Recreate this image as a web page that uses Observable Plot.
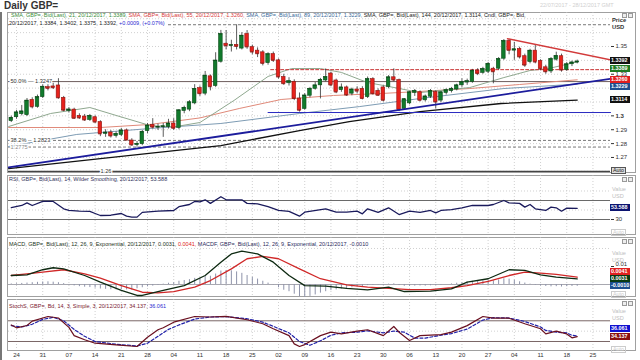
<!DOCTYPE html>
<html><head><meta charset="utf-8">
<script src="https://cdn.jsdelivr.net/npm/d3@7"></script>
<script src="https://cdn.jsdelivr.net/npm/@observablehq/plot@0.6"></script>
<style>
html,body{margin:0;padding:0;background:#fff;}
#root{position:relative;width:640px;height:360px;overflow:hidden;font-family:"Liberation Sans",Arial,sans-serif;}
.a{position:absolute;white-space:nowrap;}
.leg{font-size:5.5px;line-height:6.5px;}
.box{position:absolute;left:610px;width:20px;height:7px;font-size:5.4px;line-height:7px;color:#fff;text-align:left;padding-left:1px;box-sizing:border-box;font-weight:bold;overflow:hidden;}
.frame{position:absolute;left:7px;width:629px;border:1px solid #a0a0a0;box-sizing:border-box;}
.icon{position:absolute;width:5px;height:5px;border:1px solid #999;background:#eee;box-sizing:border-box;}
</style></head><body><div id="root"></div>
<script>
// ---------------- data ----------------
const weekTicks  = [1,6,11,16,21,26,31,36,41,46,51,56,61,66,71,76,81,86,91,96,101,106,111];
const weekLabels = ["24","31","07","14","21","28","04","11","18","25","02","09","16","23","30","06","13","20","27","04","11","18","25"];

const open = [1.2962,1.2990,1.3012,1.3005,1.3115,1.3065,1.3135,1.3207,1.3212,1.3219,
1.3130,1.3035,1.3045,1.3000,1.2995,1.2970,1.2990,1.2955,1.2870,1.2880,
1.2855,1.2862,1.2895,1.2822,1.2790,1.2796,1.2890,1.2935,1.2916,1.2920,
1.2920,1.2945,1.2912,1.3035,1.3045,1.3090,1.3200,1.3160,1.3285,1.3215,
1.3390,1.3520,1.3505,1.3512,1.3485,1.3590,1.3495,1.3470,1.3458,1.3380,
1.3445,1.3400,1.3280,1.3235,1.3245,1.3125,1.3050,1.3145,1.3195,1.3220,
1.3255,1.3305,1.3255,1.3185,1.3205,1.3160,1.3190,1.3195,1.3135,1.3265,
1.3180,1.3205,1.3208,1.3278,1.3258,1.3050,1.3090,1.3165,1.3170,1.3112,
1.3138,1.3172,1.3110,1.3165,1.3178,1.3190,1.3220,1.3240,1.3245,1.3325,
1.3310,1.3318,1.3340,1.3340,1.3412,1.3540,1.3470,1.3482,1.3430,1.3388,
1.3470,1.3395,1.3350,1.3320,1.3405,1.3430,1.3330,1.3372,1.3384];
const high = [1.2998,1.3040,1.3075,1.3125,1.3130,1.3150,1.3225,1.3230,1.3235,1.3268,
1.3140,1.3060,1.3055,1.3015,1.3010,1.3010,1.3000,1.2965,1.2900,1.2895,
1.2885,1.2910,1.2905,1.2835,1.2815,1.2895,1.2945,1.2980,1.2940,1.2945,
1.2975,1.2980,1.3045,1.3070,1.3110,1.3225,1.3215,1.3320,1.3295,1.3455,
1.3616,1.3615,1.3545,1.3657,1.3600,1.3615,1.3510,1.3490,1.3470,1.3455,
1.3460,1.3410,1.3300,1.3275,1.3260,1.3165,1.3160,1.3205,1.3240,1.3270,
1.3338,1.3315,1.3265,1.3230,1.3215,1.3200,1.3210,1.3210,1.3280,1.3275,
1.3195,1.3215,1.3290,1.3339,1.3265,1.3125,1.3175,1.3190,1.3180,1.3150,
1.3190,1.3180,1.3175,1.3195,1.3205,1.3228,1.3267,1.3265,1.3335,1.3340,
1.3350,1.3385,1.3350,1.3420,1.3550,1.3550,1.3530,1.3495,1.3445,1.3480,
1.3507,1.3405,1.3365,1.3420,1.3459,1.3445,1.3385,1.3395,1.3402];
const low = [1.2952,1.2975,1.3000,1.2995,1.3050,1.3055,1.3125,1.3180,1.3190,1.3120,
1.3030,1.3020,1.2975,1.2975,1.2960,1.2960,1.2945,1.2850,1.2845,1.2840,
1.2840,1.2850,1.2820,1.2780,1.2774,1.2785,1.2870,1.2905,1.2895,1.2845,
1.2905,1.2895,1.2900,1.3015,1.3030,1.3080,1.3140,1.3145,1.3180,1.3205,
1.3380,1.3475,1.3460,1.3475,1.3475,1.3480,1.3440,1.3420,1.3360,1.3365,
1.3385,1.3265,1.3220,1.3215,1.3110,1.3027,1.3040,1.3130,1.3185,1.3122,
1.3245,1.3210,1.3160,1.3170,1.3140,1.3145,1.3160,1.3115,1.3125,1.3150,
1.3140,1.3100,1.3195,1.3245,1.3030,1.3040,1.3080,1.3140,1.3100,1.3100,
1.3125,1.3051,1.3095,1.3150,1.3165,1.3180,1.3205,1.3220,1.3235,1.3290,
1.3300,1.3305,1.3231,1.3330,1.3400,1.3440,1.3400,1.3410,1.3350,1.3375,
1.3375,1.3325,1.3300,1.3305,1.3395,1.3315,1.3320,1.3355,1.3375];
const close = [1.2986,1.3025,1.3032,1.3110,1.3065,1.3135,1.3210,1.3198,1.3203,1.3130,
1.3040,1.3046,1.2982,1.2985,1.2970,1.3000,1.2955,1.2870,1.2880,1.2855,
1.2870,1.2895,1.2825,1.2790,1.2798,1.2885,1.2930,1.2918,1.2920,1.2925,
1.2945,1.2910,1.3040,1.3058,1.3098,1.3195,1.3160,1.3290,1.3210,1.3399,
1.3590,1.3505,1.3510,1.3500,1.3578,1.3497,1.3460,1.3448,1.3378,1.3445,
1.3400,1.3280,1.3232,1.3250,1.3125,1.3040,1.3147,1.3195,1.3220,1.3260,
1.3280,1.3222,1.3172,1.3205,1.3150,1.3190,1.3178,1.3125,1.3265,1.3160,
1.3148,1.3112,1.3278,1.3258,1.3045,1.3120,1.3170,1.3180,1.3112,1.3140,
1.3180,1.3100,1.3170,1.3185,1.3195,1.3220,1.3243,1.3250,1.3325,1.3305,
1.3338,1.3375,1.3318,1.3410,1.3540,1.3472,1.3480,1.3425,1.3365,1.3470,
1.3388,1.3340,1.3318,1.3410,1.3432,1.3330,1.3372,1.3385,1.3392];

// moving averages: [day index, value]
const sma21  = [[-0.5,1.2923],[7.5,1.3017],[15,1.3060],[20,1.3003],[26.5,1.2930],[31,1.2920],[36,1.2952],[42.5,1.3111],[49,1.3284],[53.5,1.3341],[59,1.3341],[63,1.3313],[68,1.3240],[72,1.3212],[78,1.3168],[87.5,1.3204],[94,1.3276],[99,1.3327],[102.5,1.3341],[108,1.3389]];
const sma55  = [[-0.5,1.2916],[17,1.2916],[26.5,1.2938],[36,1.2985],[43.5,1.3053],[51.5,1.3118],[61.5,1.3147],[70.5,1.3161],[78,1.3176],[87.5,1.3197],[97,1.3226],[108,1.3260]];
const sma89  = [[-0.5,1.2779],[12.5,1.2866],[26.5,1.2909],[40,1.2945],[55,1.3017],[66.5,1.3067],[78,1.3125],[94,1.3197],[108,1.3229]];
const sma144 = [[-0.5,1.2620],[17,1.2692],[40,1.2786],[55,1.2894],[64.5,1.2959],[78,1.3031],[93.5,1.3089],[108,1.3114]];

// drawn lines
const blueTrend = [[-0.53,1.2628],[114.35,1.3267]];
const redTrend  = [[94.7,1.3556],[114.35,1.3404]];
const blueFlat  = [[49,1.3024],[114.35,1.3024]];
const redFlat   = [[49.5,1.3333],[114.35,1.3333]];
const fibSolid  = [1.3247];
const fibDashed = [1.2823, 1.2775, 1.3657];
const baseLevel = [1.26];
const fibText   = [{v:1.3247,t:"50.0% \u2014 1.3247",c:"#333"},{v:1.2823,t:"38.2% -- 1.2823",c:"#333"},{v:1.2775,t:"1.2775",c:"#888"}];
const priceGrid = [1.26,1.27,1.28,1.29,1.30,1.31,1.32,1.33,1.34,1.35,1.36,1.37];
const priceTicks = [1.27,1.28,1.29,1.3,1.33,1.35];
const priceBold  = [1.3];

// RSI
const rsi = [[0,55],[2,59.5],[3,65],[4,59.5],[6,68],[8,68],[10,52.5],[11,49],[13,47.5],[15,47],[16,42.6],[17,38.4],[19,39],[21,42.6],[22,37],[23,35],[24,35],[25,45],[28,47.6],[31,49],[32,57],[34,61.6],[35,68],[36,67],[37,71.5],[38,64],[40,78],[41,71.5],[44,71.5],[45,64],[47,63],[49,57],[51,49],[53,47],[55,37],[56,45.4],[60,52.5],[62,45.4],[64,45.4],[66,47.5],[67,42],[68,52.5],[70,45],[72,54.6],[74,40.5],[76,47.5],[78,45],[80,49],[81,44],[82,49],[84,51],[86,54.6],[88,59.5],[91,59.5],[92,61.6],[94,70],[95,65],[97,64],[98,56],[99,61.6],[100,52.5],[102,49],[103,56],[104,54.6],[105,47.5],[106,54],[108,53.588]];

// MACD
const macd = [[0,0.0050],[3,0.0054],[6,0.0082],[8,0.0093],[10,0.0087],[14,0.0050],[17,0.0013],[21,-0.0033],[24,-0.0061],[25,-0.0061],[29,-0.0033],[33,-0.0006],[37,0.0050],[40,0.0124],[42,0.0170],[44,0.0185],[47,0.0170],[50,0.0124],[53,0.0050],[56,-0.0006],[60,-0.0009],[64,-0.0021],[68,-0.0030],[72,-0.0015],[75,-0.0039],[80,-0.0037],[84,-0.0024],[87,0.0013],[91,0.0032],[95,0.0082],[98,0.0078],[101,0.0054],[104,0.0041],[108,0.0031]];
const signal = [[0,0.0050],[3,0.0059],[6,0.0069],[10,0.0082],[14,0.0059],[17,0.0035],[21,-0.0006],[25,-0.0043],[28,-0.0046],[31,-0.0039],[35,-0.0015],[38,0.0022],[42,0.0087],[45,0.0143],[48,0.0156],[51,0.0143],[55,0.0087],[59,0.0032],[64,-0.0002],[68,-0.0015],[72,-0.0021],[76,-0.0028],[80,-0.0028],[84,-0.0018],[87,-0.0006],[91,0.0018],[95,0.0050],[98,0.0069],[101,0.0063],[104,0.0056],[108,0.0041]];
const hist = [0.0003,0.0004,0.0006,0.0008,0.0010,0.0012,0.0014,0.0015,0.0013,0.0010,0.0005,
-0.0002,-0.0008,-0.0012,-0.0015,-0.0017,-0.0020,-0.0025,-0.0027,-0.0029,-0.0030,-0.0029,-0.0030,-0.0031,-0.0024,-0.0018,-0.0013,-0.0009,
-0.0004,0.0002,0.0007,0.0010,0.0018,0.0022,0.0027,0.0034,0.0036,0.0044,0.0046,0.0058,0.0075,0.0078,0.0076,0.0070,0.0062,0.0050,0.0040,0.0030,0.0018,0.0008,-0.0002,
-0.0018,-0.0032,-0.0040,-0.0054,-0.0068,-0.0072,-0.0066,-0.0058,-0.0048,-0.0040,-0.0034,-0.0030,-0.0025,-0.0022,-0.0018,-0.0014,
-0.0012,-0.0006,-0.0004,-0.0002,-0.0003,0.0002,0.0004,-0.0006,-0.0010,-0.0010,-0.0009,-0.0008,-0.0009,-0.0007,-0.0006,-0.0003,0.0000,0.0003,0.0007,
0.0010,0.0014,0.0018,0.0018,0.0020,0.0022,0.0020,0.0025,0.0032,0.0030,0.0024,0.0015,0.0008,
0.0002,-0.0004,-0.0008,-0.0011,-0.0013,-0.0012,-0.0014,-0.0012,-0.0011,-0.0010];
const macdTicks = [0.01];

// Stochastic
const stochK = [[0,68],[1,59.7],[3,66.4],[4,79],[7,92.5],[9,88],[11,61],[12,37],[14,25],[16,15],[20,10],[24,5.5],[26,32.5],[28,54],[29,60],[31,76],[35,92.5],[38,91],[41,93],[45,83],[48,71.5],[50,57],[53,37],[54,13],[55,5.5],[56,11],[59,37],[61,47],[63,42],[66,50],[68,54],[71,37],[73,63.5],[74,47],[76,23],[78,37],[82,40],[84,47],[87,66],[90,92.5],[92,87.5],[95,87.5],[98,71.5],[101,57],[102,42],[104,50],[106,42],[107,30.7],[108,34.137]];
const stochD = [[0,66],[2,62],[4,70],[6,84],[8,90],[10,80],[12,55],[14,35],[16,20],[20,12],[24,7],[26,15],[28,35],[30,55],[32,68],[35,85],[38,91],[41,92],[45,86],[48,76],[50,64],[53,45],[55,20],[57,9],[59,22],[61,38],[63,45],[66,47],[68,51],[71,45],[73,50],[75,47],[77,30],[79,30],[82,38],[84,43],[87,56],[90,82],[92,89],[95,88],[98,78],[101,62],[102,52],[104,47],[106,45],[107,38],[108,36.061]];

// ---------------- layout ----------------
const root = document.getElementById("root");
const xDomain = [-0.53, 114.35];
const days = open.map((_, i) => i);
const FONT = "Liberation Sans, Arial, sans-serif";
const base = {width: 640, marginLeft: 8, marginRight: 30, marginTop: 0, marginBottom: 0,
  color: {type: "identity"},
  style: {background: "transparent", fontFamily: FONT, fontSize: "6px", color: "#333", overflow: "visible"}};
const gridX = Plot.ruleX(weekTicks, {stroke: "#c4c4c4", strokeDasharray: "1,2", strokeWidth: 0.8});
// right-hand value labels drawn as text next to the scale's tick marks
const rightLabels = (vals, opts = {}) => Plot.text(vals, {y: d => d, text: d => String(d), frameAnchor: "right",
  dx: 5, textAnchor: "start", fill: "#333", fontSize: 6, ...opts});

function el(tag, cls, css, html) {
  const d = document.createElement(tag); if (cls) d.className = cls;
  if (css) d.style.cssText = css; if (html != null) d.innerHTML = html;
  root.appendChild(d); return d;
}
function place(svg, top) { const w = el("div", "a", `left:0;top:${top}px;`); w.appendChild(svg); return svg; }
function boxes(top, scale, items, mode, H = 7.5) {
  const pos = items.map(d => top + scale.apply(d.v));
  if (mode === "down") { for (let k = 1; k < pos.length; k++) pos[k] = Math.max(pos[k], pos[k-1] + H); }
  else { for (let k = pos.length - 2; k >= 0; k--) pos[k] = Math.min(pos[k], pos[k+1] - H); }
  items.forEach((d, k) => el("div", "box", `top:${pos[k] - 3.5}px;background:${d.bg};`, d.t));
}

// frames & chrome
el("div", "a", "left:0;top:12px;width:2px;height:348px;background:#777;");
[[12,161],[175,60],[237,60],[299,52]].forEach(([t,h]) => el("div", "frame", `top:${t}px;height:${h}px;`));
el("div", "a", "left:4px;top:0px;font-size:10px;font-weight:bold;color:#333;", "Daily GBP=");
el("div", "a leg", "left:540px;top:2px;color:#d0d0d0;", "22/07/2017 - 28/12/2017 GMT");

// ---- main price panel ----
const mainTop = 12;
const main = place(Plot.plot({...base, height: 161,
  x: {domain: xDomain, axis: null},
  y: {domain: [1.25844, 1.37451], axis: "right", ticks: priceTicks, tickFormat: () => "", tickSize: 3, label: null},
  marks: [
    Plot.ruleY(priceGrid, {stroke: "#c4c4c4", strokeDasharray: "1,2", strokeWidth: 0.8}),
    gridX,
    Plot.ruleY(fibSolid, {stroke: "#6e5e5e", strokeWidth: 1}),
    Plot.ruleY(fibDashed, {stroke: "#555", strokeDasharray: "3,2", strokeWidth: 0.8}),
    Plot.ruleY(baseLevel, {stroke: "#444", strokeWidth: 1.4}),
    Plot.line(sma144, {stroke: "#111", strokeWidth: 1.3}),
    Plot.line(sma89, {stroke: "#7e9cb4", strokeWidth: 1}),
    Plot.line(sma55, {stroke: "#e08a7a", strokeWidth: 1}),
    Plot.line(sma21, {stroke: "#8fa88f", strokeWidth: 1}),
    Plot.line(blueFlat, {stroke: "#2a2ac0", strokeWidth: 1}),
    Plot.line(redFlat, {stroke: "#c83030", strokeWidth: 1, strokeDasharray: "3,2"}),
    Plot.ruleX(days, {x: i => i, y1: i => low[i], y2: i => high[i], stroke: "#333", strokeWidth: 0.8}),
    Plot.rect(days, {x1: i => i - 0.34, x2: i => i + 0.34,
      y1: i => Math.min(open[i], close[i]), y2: i => Math.max(open[i], close[i]),
      fill: i => close[i] >= open[i] ? "#117a2c" : "#e6221c",
      stroke: i => close[i] >= open[i] ? "#0a4a18" : "#8e1410", strokeWidth: 0.6}),
    Plot.ruleY(days, {y: i => close[i], x1: i => i - 0.34, x2: i => i + 0.34,
      stroke: i => close[i] >= open[i] ? "#0a4a18" : "#8e1410", strokeWidth: 0.8}),
    Plot.line(blueTrend, {stroke: "#1c1c9c", strokeWidth: 1.8, clip: true}),
    Plot.line(redTrend, {stroke: "#d23a3a", strokeWidth: 1.5, clip: true}),
    Plot.text(fibText, {y: "v", text: "t", fill: "c", frameAnchor: "left", textAnchor: "start", dx: 2,
      fontSize: 5.6, stroke: "white", strokeWidth: 2.5, paintOrder: "stroke"}),
    Plot.text(baseLevel, {y: d => d, text: d => String(d), frameAnchor: "left", dx: 92, fill: "#333",
      fontSize: 5.6, stroke: "white", strokeWidth: 2.5, paintOrder: "stroke"}),
    rightLabels(priceTicks.filter(d => !priceBold.includes(d))),
    rightLabels(priceBold, {fontWeight: "bold"})
  ]}), mainTop);
boxes(mainTop, main.scale("y"), [
  {v: 1.3392, t: "1.3392", bg: "#111"}, {v: 1.3389, t: "1.3389", bg: "#1e7a22"},
  {v: 1.3260, t: "1.3260", bg: "#e02020"}, {v: 1.3229, t: "1.3229", bg: "#1f4f8f"},
  {v: 1.3114, t: "1.3114", bg: "#111"}], "down");
el("div", "a", "left:612px;top:17px;font-size:5.8px;font-weight:bold;color:#333;line-height:7px;", "Price<br>USD");
el("div", "a", "left:611px;top:167px;font-size:5.4px;border:1px solid #555;background:#ddd;padding:0 1px;line-height:5px;color:#222;", "Auto");

el("div", "a leg", "left:11px;top:12.2px;",
  '<span style="color:#3a8e3a">SMA, GBP=, Bid(Last), 21, 20/12/2017, 1.3389, </span>' +
  '<span style="color:#d83a3a">SMA, GBP=, Bid(Last), 55, 20/12/2017, 1.3260, </span>' +
  '<span style="color:#3a6a9a">SMA, GBP=, Bid(Last), 89, 20/12/2017, 1.3229, </span>' +
  '<span style="color:#222">SMA, GBP=, Bid(Last), 144, 20/12/2017, 1.3114, Cndl, GBP=, Bid,</span>');
el("div", "a leg", "left:9px;top:20.2px;background:#fff;padding-right:2px;",
  '<span style="color:#222">20/12/2017, 1.3384, 1.3402, 1.3375, 1.3392, </span><span style="color:#2a2ad0">+0.0009, (+0.07%)</span>');

// ---- RSI ----
const rsiTop = 175;
const rsiPlot = place(Plot.plot({...base, height: 60,
  x: {domain: xDomain, axis: null},
  y: {domain: [-3.68, 122.63], axis: "right", ticks: [30], tickSize: 3, tickPadding: 2, label: null},
  marks: [
    gridX,
    Plot.ruleY([50, 90], {stroke: "#c4c4c4", strokeDasharray: "1,2", strokeWidth: 0.8}),
    Plot.ruleY([70, 30], {stroke: "#6a6a6a", strokeWidth: 1}),
    Plot.line(rsi, {stroke: "#1a1a5c", strokeWidth: 1.3})
  ]}), rsiTop);
boxes(rsiTop, rsiPlot.scale("y"), [{v: 53.588, t: "53.588", bg: "#0c1470"}], "up");
el("div", "a leg", "left:9px;top:175.7px;color:#33335a;", "RSI, GBP=, Bid(Last), 14, Wilder Smoothing, 20/12/2017, 53.588");

// ---- MACD ----
const macdTop = 237;
const macdPlot = place(Plot.plot({...base, height: 60,
  x: {domain: xDomain, axis: null},
  y: {domain: [-0.00722, 0.02611], axis: "right", ticks: macdTicks, tickFormat: () => "", tickSize: 3, label: null},
  marks: [
    gridX,
    Plot.ruleY([0.01, 0.02], {stroke: "#c4c4c4", strokeDasharray: "1,2", strokeWidth: 0.8}),
    Plot.ruleY([0], {stroke: "#a8a8b0", strokeWidth: 1}),
    Plot.ruleX(days, {x: i => i, y1: 0, y2: i => hist[i], stroke: "#8e93aa", strokeWidth: 1}),
    Plot.line(signal, {stroke: "#d02828", strokeWidth: 1.3}),
    Plot.line(macd, {stroke: "#0e2a12", strokeWidth: 1.3}),
    rightLabels(macdTicks, {dy: -2})
  ]}), macdTop);
boxes(macdTop, macdPlot.scale("y"), [
  {v: 0.0041, t: "0.0041", bg: "#e02020"}, {v: 0.0031, t: "0.0031", bg: "#0a3a12"},
  {v: -0.0010, t: "-0.0010", bg: "#1f4f8f"}], "up", 7);
el("div", "a leg", "left:9px;top:240.7px;",
  '<span style="color:#223322">MACD, GBP=, Bid(Last), 12, 26, 9, Exponential, 20/12/2017, 0.0031, </span>' +
  '<span style="color:#e02020">0.0041, </span><span style="color:#2a2a5a">MACDF, GBP=, Bid(Last), 12, 26, 9, Exponential, 20/12/2017, -0.0010</span>');

// ---- Stochastic ----
const stTop = 299;
const stPlot = place(Plot.plot({...base, height: 61, marginBottom: 10,
  x: {domain: xDomain, ticks: weekTicks, tickFormat: d => weekLabels[weekTicks.indexOf(d)], tickSize: 0, tickPadding: 2, label: null},
  y: {domain: [-6.1, 141.7], axis: null},
  marks: [
    gridX,
    Plot.ruleY([50], {stroke: "#c4c4c4", strokeDasharray: "1,2", strokeWidth: 0.8}),
    Plot.ruleY([80, 20], {stroke: "#7a6666", strokeWidth: 1}),
    Plot.line(stochD, {stroke: "#2020a8", strokeWidth: 1.2, strokeDasharray: "3,2"}),
    Plot.line(stochK, {stroke: "#6a1020", strokeWidth: 1.2})
  ]}), stTop);
boxes(stTop, stPlot.scale("y"), [
  {v: 36.061, t: "36.061", bg: "#1010d0"}, {v: 34.137, t: "34.137", bg: "#8a1010"}], "up");
el("div", "a leg", "left:9px;top:302.7px;",
  '<span style="color:#7a2030">StochS, GBP=, Bd, 14, 3, Simple, 3, 20/12/2017, 34.137, </span><span style="color:#2a2ad0">36.061</span>');

// right-side captions & icons
[186, 250, 308].forEach(t => el("div", "a", `left:612px;top:${t}px;font-size:5.6px;line-height:6.5px;color:#c0c0c0;`, "Value<br>USD"));
[13, 177, 239, 301].forEach(t => { el("div", "icon", `left:622px;top:${t}px;`); el("div", "icon", `left:628px;top:${t}px;`); });
[229, 291, 346].forEach(t => el("div", "a", `left:611px;top:${t}px;font-size:5.4px;border:1px solid #ccc;padding:0 1px;line-height:5px;color:#ccc;`, "Auto"));
</script></body></html>
